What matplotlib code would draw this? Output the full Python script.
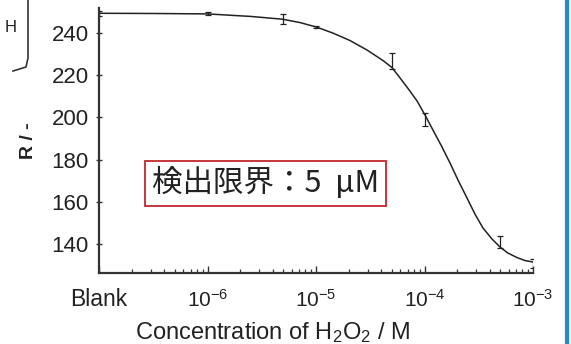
import numpy as np
import matplotlib
matplotlib.use("Agg")
import matplotlib.pyplot as plt
from matplotlib.lines import Line2D

plt.rcParams['font.family'] = ['Liberation Sans', 'DejaVu Sans']
plt.rcParams['mathtext.default'] = 'regular'

# measured points (Blank plotted at 1e-7)
conc = [1e-7, 1e-6, 5e-6, 1e-5, 5e-5, 1e-4, 5e-4, 1e-3]
R = [249.3, 249.0, 246.5, 243.0, 226.7, 199.1, 140.9, 130.8]
R_err = [1.2, 0.7, 2.4, 0.5, 3.8, 3.2, 2.9, 2.2]

# fitted curve (log10 conc, R)
curve_logc = [-7.0, -6.5, -6.0, -5.6, -5.31, -5.147, -4.991, -4.843, -4.687, -4.530,
              -4.382, -4.300, -4.226, -4.152, -4.069, -3.995, -3.922, -3.839, -3.765,
              -3.691, -3.608, -3.535, -3.461, -3.378, -3.304, -3.230, -3.147, -3.074, -3.0]
curve_R = [249.3, 249.2, 249.0, 247.8, 246.5, 244.9, 242.7, 239.9, 236.4, 231.9,
           226.9, 223.6, 218.7, 213.7, 207.8, 201.1, 194.0, 186.0, 178.4,
           170.3, 161.8, 154.2, 147.6, 142.4, 138.6, 135.7, 133.6, 132.2, 131.5]

xticks = [1e-7, 1e-6, 1e-5, 1e-4, 1e-3]
xticklabels = ['Blank', '10$^{-6}$', '10$^{-5}$', '10$^{-4}$', '10$^{-3}$']
yticks = [140, 160, 180, 200, 220, 240]

fig = plt.figure(figsize=(5.71, 3.44), dpi=100)
ax = fig.add_axes([99/571, 1-273/344, 434/571, 265/344])

ax.plot(10**np.array(curve_logc), curve_R, color='#222222', lw=1.1)
ax.errorbar(conc, R, yerr=R_err, fmt='none', ecolor='#222222', elinewidth=0.9,
            capsize=2, capthick=0.9)

ax.set_xscale('log')
ax.set_xlim(1e-7, 1e-3)
ax.set_ylim(126.3, 251.8)
ax.set_xticks(xticks)
ax.set_xticklabels(xticklabels)
ax.set_yticks(yticks)

for s in ['top', 'right']:
    ax.spines[s].set_visible(False)
for s in ['left', 'bottom']:
    ax.spines[s].set_linewidth(1.6)
    ax.spines[s].set_color('#333333')

ax.tick_params(axis='x', which='major', direction='in', length=5, width=1, pad=24,
               labelsize=15, colors='#333333', labelcolor='#222222')
ax.tick_params(axis='x', which='minor', direction='in', length=3, width=0.9, colors='#333333')
ax.tick_params(axis='y', direction='inout', length=5, width=1, pad=5,
               labelsize=16, colors='#333333', labelcolor='#222222')
for lab in ax.get_xticklabels():
    lab.set_va('baseline')
ax.get_xticklabels()[0].set_fontsize(16.5)

ax.set_xlabel('Concentration of H$_2$O$_2$ / M', fontsize=17, color='#222222')
ax.xaxis.set_label_coords(0.40, -0.178)
ax.set_ylabel('R / -', fontsize=14, fontweight='bold', color='#222222')
ax.yaxis.set_label_coords(-0.143, 0.50)

ax.text(0.122, 0.338, '検出限界：5  μM', transform=ax.transAxes,
        fontsize=22, color='#222222', family=['Noto Sans CJK JP', 'DejaVu Sans'],
        va='center', ha='left',
        bbox=dict(boxstyle='square,pad=0.22', fc='white', ec='#c0272d', lw=1.3))

# neighbouring panel fragment and page border
fig.text(5/571, 1-28/344, 'H', fontsize=12, color='#222222', va='center')
fig.add_artist(Line2D([28/571, 28/571, 26/571, 13/571],
                      [1.0, 1-58/344, 1-67/344, 1-71/344], color='#333333', lw=1.2))
fig.add_artist(Line2D([567/571, 567/571], [0, 1], color='#1f8ad2', lw=3))

fig.savefig('out.png', dpi=100)
